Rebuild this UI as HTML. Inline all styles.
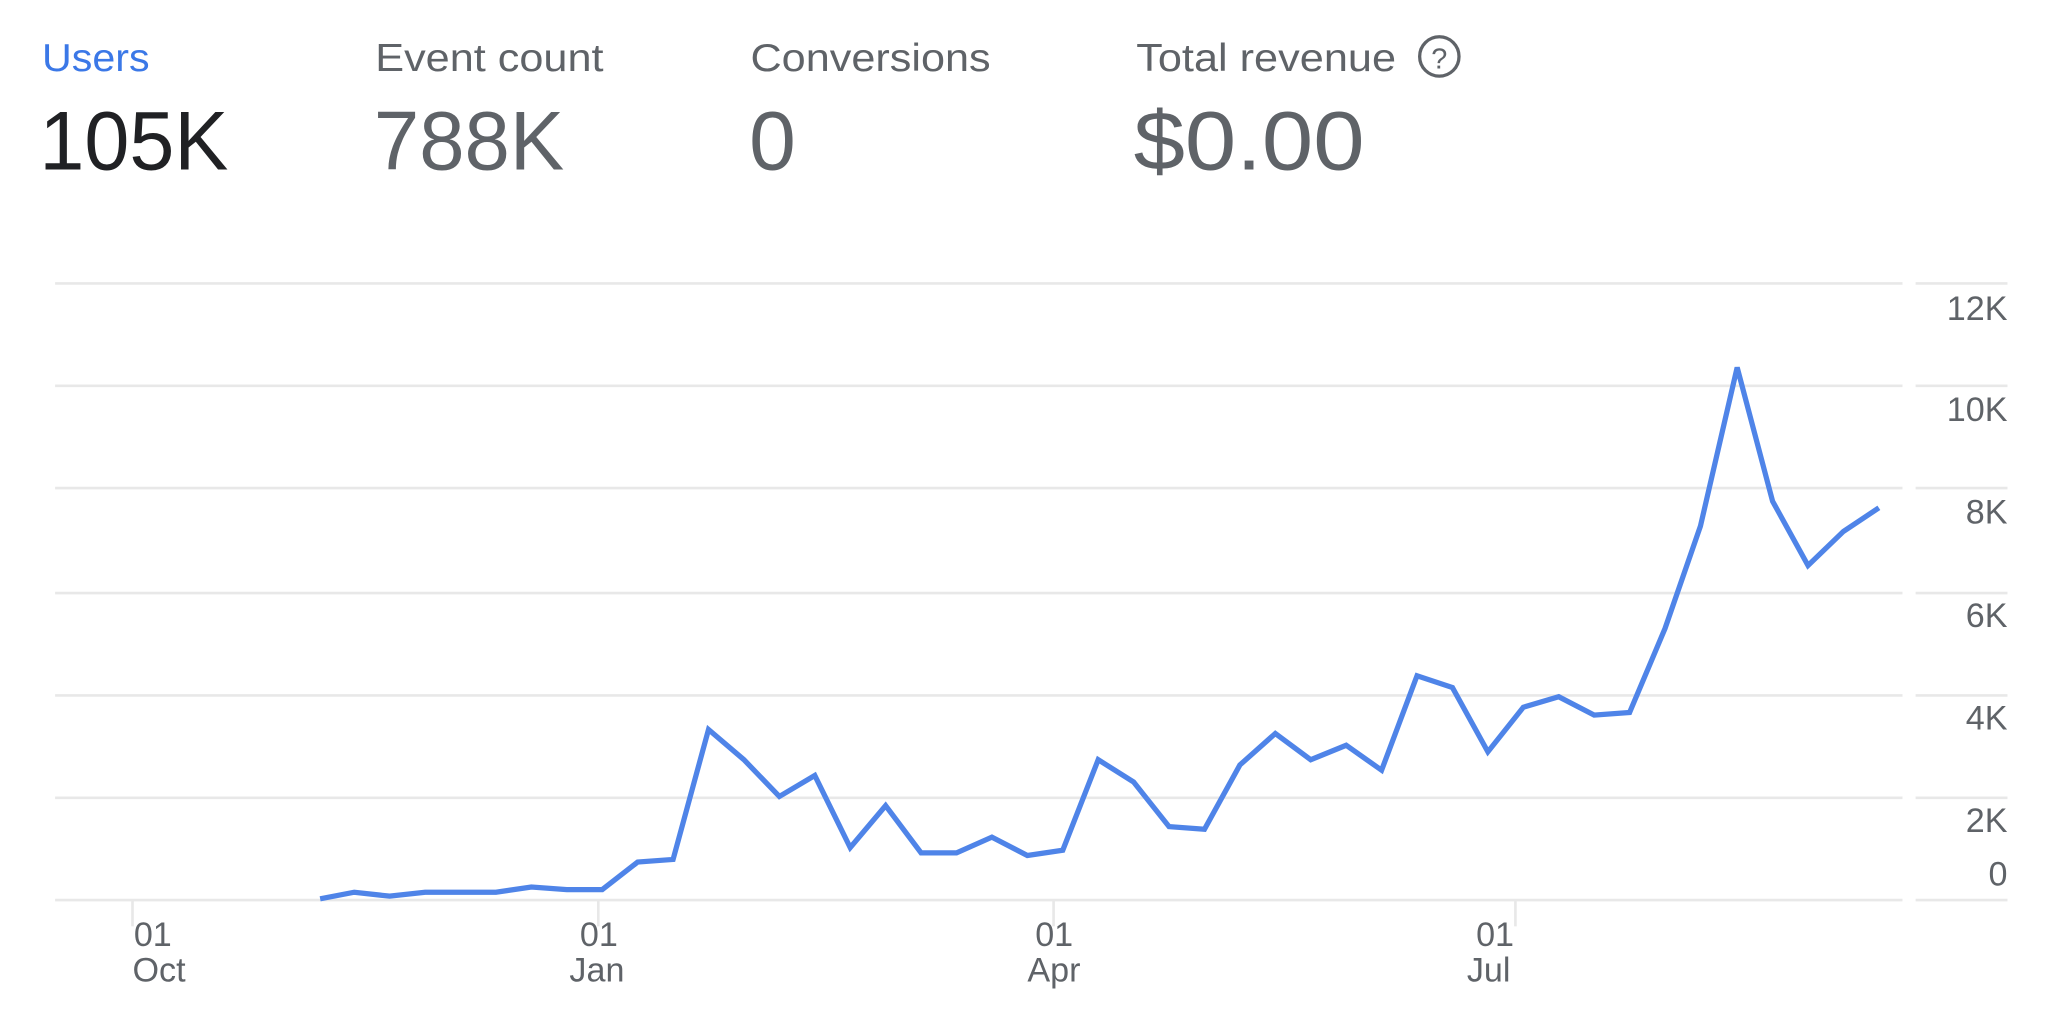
<!DOCTYPE html>
<html><head><style>
html,body{margin:0;padding:0;background:#fff;}
svg{display:block;}
text{font-family:"Liberation Sans",sans-serif;}
</style></head><body>
<svg width="2056" height="1032" viewBox="0 0 1567 786.5" xmlns="http://www.w3.org/2000/svg">
<g font-size="30">
<text x="32" y="54" fill="#3b78e7" textLength="82" lengthAdjust="spacingAndGlyphs">Users</text>
<text x="286" y="54" fill="#5f6368" textLength="174" lengthAdjust="spacingAndGlyphs">Event count</text>
<text x="572" y="54" fill="#5f6368" textLength="183" lengthAdjust="spacingAndGlyphs">Conversions</text>
<text x="866" y="54" fill="#5f6368" textLength="198" lengthAdjust="spacingAndGlyphs">Total revenue</text>
</g>
<circle cx="1097" cy="43" r="15" fill="none" stroke="#5f6368" stroke-width="2.5"/>
<text x="1097" y="52" font-size="22" fill="#5f6368" text-anchor="middle">?</text>
<g font-size="64">
<text x="30" y="129" fill="#202124" textLength="144" lengthAdjust="spacingAndGlyphs">105K</text>
<text x="285" y="129" fill="#5f6368" textLength="145" lengthAdjust="spacingAndGlyphs">788K</text>
<text x="571" y="129" fill="#5f6368">0</text>
<text x="864" y="129" fill="#5f6368" textLength="176" lengthAdjust="spacingAndGlyphs">$0.00</text>
</g>
<g stroke="#e8e8e8" stroke-width="2">
<line x1="42" x2="1450" y1="216" y2="216"/><line x1="1460" x2="1530" y1="216" y2="216"/>
<line x1="42" x2="1450" y1="294" y2="294"/><line x1="1460" x2="1530" y1="294" y2="294"/>
<line x1="42" x2="1450" y1="372" y2="372"/><line x1="1460" x2="1530" y1="372" y2="372"/>
<line x1="42" x2="1450" y1="452" y2="452"/><line x1="1460" x2="1530" y1="452" y2="452"/>
<line x1="42" x2="1450" y1="530" y2="530"/><line x1="1460" x2="1530" y1="530" y2="530"/>
<line x1="42" x2="1450" y1="608" y2="608"/><line x1="1460" x2="1530" y1="608" y2="608"/>
<line x1="42" x2="1450" y1="686" y2="686"/><line x1="1460" x2="1530" y1="686" y2="686"/>
<line x1="101" x2="101" y1="686" y2="706"/>
<line x1="456" x2="456" y1="686" y2="706"/>
<line x1="803" x2="803" y1="686" y2="706"/>
<line x1="1155" x2="1155" y1="686" y2="706"/>
</g>
<g font-size="26" fill="#5f6368" text-anchor="end">
<text x="1530" y="244">12K</text>
<text x="1530" y="321">10K</text>
<text x="1530" y="399">8K</text>
<text x="1530" y="478">6K</text>
<text x="1530" y="556">4K</text>
<text x="1530" y="634">2K</text>
<text x="1530" y="675">0</text>
</g>
<g font-size="26" fill="#5f6368">
<text x="102" y="721">01</text><text x="101" y="748">Oct</text>
<text x="442" y="721">01</text><text x="434" y="748">Jan</text>
<text x="789" y="721">01</text><text x="783" y="748">Apr</text>
<text x="1125" y="721">01</text><text x="1118" y="748">Jul</text>
</g>
<polyline fill="none" stroke="#4f84e8" stroke-width="4" stroke-linejoin="miter"
points="244,685 270,680 297,683 324,680 351,680 378,680 405,676 432,678 459,678 486,657 513,655 540,556 567,579 594,607 621,591 648,646 675,614 702,650 729,650 756,638 783,652 810,648 837,579 864,596 891,630 918,632 945,583 972,559 999,579 1026,568 1053,587 1080,515 1107,524 1134,573 1161,539 1188,531 1215,545 1242,543 1269,479 1296,401 1324,280 1351,382 1378,431 1405,405 1432,387"/>
</svg>
</body></html>
